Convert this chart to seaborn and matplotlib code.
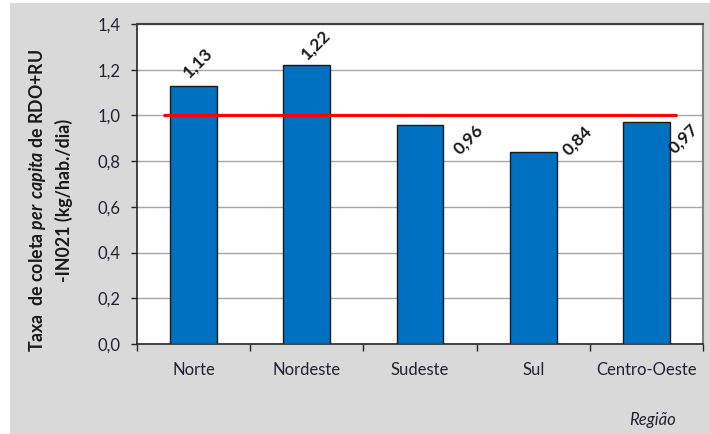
import matplotlib
matplotlib.use("Agg")
import matplotlib.pyplot as plt
from matplotlib.patches import Rectangle
import seaborn as sns
import pandas as pd

# Collection rate per region
regioes = ["Norte", "Nordeste", "Sudeste", "Sul", "Centro-Oeste"]
taxas = [1.13, 1.22, 0.96, 0.84, 0.97]
referencia = 1.0
y_ticks = [0.0, 0.2, 0.4, 0.6, 0.8, 1.0, 1.2, 1.4]

# label placement (pixel offsets from each bar's top centre)
label_offsets = [(4, 23), (9, 21), (48, -15), (44, 11), (37, -16)]

sns.set_theme(style="white")
plt.rcParams["font.family"] = ["Lato", "DejaVu Sans"]
plt.rcParams["mathtext.fontset"] = "custom"
plt.rcParams["mathtext.bfit"] = "Lato:italic:bold"
plt.rcParams["mathtext.rm"] = "Lato"
plt.rcParams["mathtext.bf"] = "Lato:bold"

df = pd.DataFrame({"Região": regioes, "Taxa": taxas})

fig = plt.figure(figsize=(7.10, 4.34), dpi=100, facecolor="white")
fig.patches.append(Rectangle((10 / 710, 0), 1 - 10 / 710, 1 - 3 / 434,
                             transform=fig.transFigure, facecolor="#d9d9d9",
                             edgecolor="none", zorder=-10))
ax = fig.add_axes([137 / 710, 1 - 344 / 434, (703 - 137) / 710, (344 - 24) / 434])
ax.set_facecolor("white")

sns.barplot(data=df, x="Região", y="Taxa", color="#0070c0", width=0.415,
            edgecolor="#1a1a1a", linewidth=1.0, saturation=1, ax=ax, zorder=3)

ax.set_ylim(0, 1.4)
ax.set_xlim(-0.5, len(regioes) - 0.5)
ax.set_yticks(y_ticks)
ax.set_yticklabels([f"{v:.1f}".replace(".", ",") for v in y_ticks])
ax.yaxis.grid(True, color="#a6a6a6", linewidth=1.0, zorder=0)
ax.set_axisbelow(True)

# reference line
ax.hlines(referencia, -0.27, len(regioes) - 1 + 0.27, color="#ff0000",
          linewidth=2.3, zorder=4)

# bar value labels
for i, (v, (dx, dy)) in enumerate(zip(taxas, label_offsets)):
    ax.annotate(f"{v:.2f}".replace(".", ","), xy=(i, v), xytext=(dx, dy),
                textcoords="offset pixels", ha="center", va="center",
                rotation=45, fontsize=12.5, fontweight="bold", color="#1a1a1a",
                zorder=5)

# spines
for side in ["left", "bottom"]:
    ax.spines[side].set_color("#262626")
    ax.spines[side].set_linewidth(1.2)
ax.spines["top"].set_color("#404040")
ax.spines["right"].set_color("#808080")
ax.spines["top"].set_linewidth(1.5)
ax.spines["right"].set_linewidth(1.5)

ax.tick_params(axis="y", which="major", direction="out", length=4, width=1,
               color="#262626", pad=8, labelsize=12, labelcolor="#22222e",
               left=True)
ax.set_xticks(range(len(regioes)))
ax.set_xticklabels(regioes)
ax.set_xticks([i - 0.5 for i in range(len(regioes) + 1)], minor=True)
ax.tick_params(axis="x", which="major", length=0, pad=13, labelsize=12,
               labelcolor="#22222e")
ax.tick_params(axis="x", which="minor", direction="out", length=5, width=1,
               color="#262626", bottom=True)
ax.set_xlabel("")
ax.set_ylabel("")

fig.text(50 / 710, 1 - 200 / 434,
         "Taxa  de coleta $\\mathbfit{per\\ capita}$ de RDO+RU\n-IN021 (kg/hab./dia)",
         rotation=90, ha="center", va="center", multialignment="center",
         fontsize=12.8, fontweight="bold", color="#1a1a1a", linespacing=1.5)
fig.text(653 / 710, 1 - 420 / 434, "Região", ha="center", va="center",
         fontsize=12, style="italic", color="#22222e")

fig.savefig("out.png", dpi=100, facecolor="white")
